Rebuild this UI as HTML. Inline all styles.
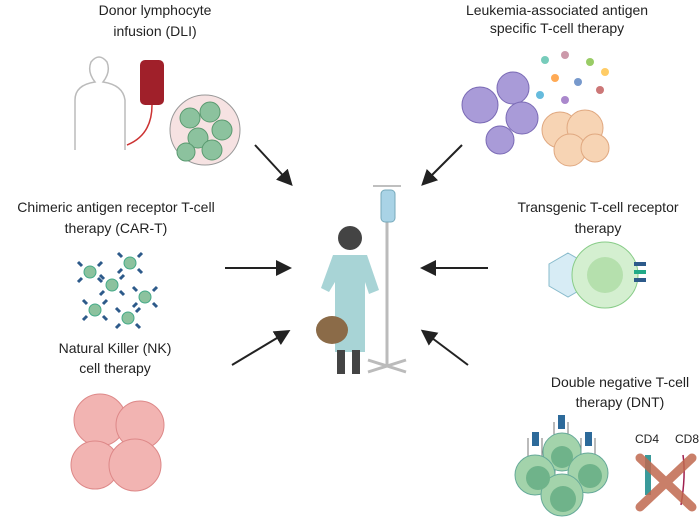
<!DOCTYPE html>
<html><head><style>body{margin:0;background:#fff}svg{display:block}text{font-family:"Liberation Sans",sans-serif;font-size:14px;fill:#222;text-anchor:middle}</style></head><body>
<svg width="700" height="520" viewBox="0 0 700 520">
<defs><marker id="a" markerWidth="8" markerHeight="8" refX="6" refY="4" orient="auto"><path d="M0,0L8,4L0,8z" fill="#222"/></marker></defs>
<text x="155" y="15">Donor lymphocyte</text><text x="155" y="36">infusion (DLI)</text>
<text x="557" y="15">Leukemia-associated antigen</text><text x="557" y="33">specific T-cell therapy</text>
<text x="116" y="212">Chimeric antigen receptor T-cell</text><text x="116" y="233">therapy (CAR-T)</text>
<text x="598" y="212">Transgenic T-cell receptor</text><text x="598" y="233">therapy</text>
<text x="115" y="353">Natural Killer (NK)</text><text x="115" y="373">cell therapy</text>
<text x="620" y="387">Double negative T-cell</text><text x="620" y="407">therapy (DNT)</text>
<g stroke="#222" stroke-width="2" marker-end="url(#a)">
<line x1="255" y1="145" x2="290" y2="183"/><line x1="462" y1="145" x2="424" y2="183"/>
<line x1="225" y1="268" x2="288" y2="268"/><line x1="488" y1="268" x2="424" y2="268"/>
<line x1="232" y1="365" x2="287" y2="332"/><line x1="468" y1="365" x2="424" y2="332"/></g>
<!-- patient -->
<line x1="387" y1="190" x2="387" y2="365" stroke="#bbb" stroke-width="3"/>
<path d="M373,186h28" stroke="#aaa" stroke-width="1.5"/>
<rect x="381" y="190" width="14" height="32" rx="4" fill="#a9d3e6" stroke="#7ab" />
<path d="M368,372L406,360M368,360L406,372" stroke="#bbb" stroke-width="3"/>
<circle cx="350" cy="238" r="12" fill="#444"/>
<path d="M333,255h34l12,35l-10,4l-4,-12v70h-30v-70l-6,10l-8,-4z" fill="#a8d4d6"/>
<rect x="337" y="350" width="8" height="24" fill="#444"/><rect x="352" y="350" width="8" height="24" fill="#444"/>
<ellipse cx="332" cy="330" rx="16" ry="14" fill="#8b6b48"/>
<!-- DLI -->
<path d="M75,150v-50q0,-15 20,-18q-8,-10 -4,-20q8,-10 16,0q4,10 -4,20q20,3 22,18v50" fill="none" stroke="#bbb" stroke-width="1.5"/>
<rect x="140" y="60" width="24" height="45" rx="5" fill="#a0202a"/>
<path d="M152,105q0,30 -25,40" stroke="#c33" fill="none" stroke-width="1.5"/>
<circle cx="205" cy="130" r="35" fill="#f6e2e2" stroke="#999"/>
<g fill="#8cc29e" stroke="#5a9a70"><circle cx="190" cy="118" r="10"/><circle cx="210" cy="112" r="10"/><circle cx="222" cy="130" r="10"/><circle cx="198" cy="138" r="10"/><circle cx="212" cy="150" r="10"/><circle cx="186" cy="152" r="9"/></g>
<!-- leukemia -->
<g fill="#a99bd8" stroke="#7a6ab5"><circle cx="480" cy="105" r="18"/><circle cx="513" cy="88" r="16"/><circle cx="522" cy="118" r="16"/><circle cx="500" cy="140" r="14"/></g>
<g fill="#f7d4b4" stroke="#e0a880"><circle cx="560" cy="130" r="18"/><circle cx="585" cy="128" r="18"/><circle cx="570" cy="150" r="16"/><circle cx="595" cy="148" r="14"/></g>
<g><circle cx="545" cy="60" r="4" fill="#7cb"/><circle cx="565" cy="55" r="4" fill="#c9a"/><circle cx="590" cy="62" r="4" fill="#9c6"/><circle cx="555" cy="78" r="4" fill="#fa5"/><circle cx="578" cy="82" r="4" fill="#79c"/><circle cx="600" cy="90" r="4" fill="#c77"/><circle cx="540" cy="95" r="4" fill="#6bd"/><circle cx="565" cy="100" r="4" fill="#a8c"/><circle cx="605" cy="72" r="4" fill="#fc6"/></g>
<!-- CAR-T -->
<g stroke="#2d5a8a" stroke-width="3">
<path d="M82,266l-4,-4M98,266l4,-4M82,278l-4,4M98,278l4,4"/><path d="M122,257l-4,-4M138,257l4,-4M122,269l-4,4M138,269l4,4"/>
<path d="M104,279l-4,-4M120,279l4,-4M104,291l-4,4M120,291l4,4"/><path d="M137,291l-4,-4M153,291l4,-4M137,303l-4,4M153,303l4,4"/>
<path d="M87,304l-4,-4M103,304l4,-4M87,316l-4,4M103,316l4,4"/><path d="M120,312l-4,-4M136,312l4,-4M120,324l-4,4M136,324l4,4"/></g>
<g fill="#8cc29e" stroke="#4a8"><circle cx="90" cy="272" r="6"/><circle cx="130" cy="263" r="6"/><circle cx="112" cy="285" r="6"/><circle cx="145" cy="297" r="6"/><circle cx="95" cy="310" r="6"/><circle cx="128" cy="318" r="6"/></g>
<!-- transgenic -->
<polygon points="568,253 587,264 587,286 568,297 549,286 549,264" fill="#d7ecf5" stroke="#8bc"/>
<line x1="588" y1="275" x2="608" y2="275" stroke="#888"/>
<circle cx="605" cy="275" r="33" fill="#d4efd0" stroke="#8c8"/><circle cx="605" cy="275" r="18" fill="#b5e0ad"/>
<rect x="634" y="262" width="12" height="4" fill="#2d5a8a"/><rect x="634" y="270" width="12" height="4" fill="#2a8"/><rect x="634" y="278" width="12" height="4" fill="#2d5a8a"/>
<!-- NK -->
<g fill="#f2b4b2" stroke="#d88"><circle cx="100" cy="420" r="26"/><circle cx="140" cy="425" r="24"/><circle cx="95" cy="465" r="24"/><circle cx="135" cy="465" r="26"/></g>
<!-- DNT -->
<g stroke="#777" stroke-width="1"><path d="M554,440v-18M568,440v-18M528,456v-18M542,456v-18M581,456v-18M595,456v-18M555,478v-18M569,478v-18"/></g>
<g fill="#2d6a9a"><rect x="558" y="415" width="7" height="14"/><rect x="532" y="432" width="7" height="14"/><rect x="585" y="432" width="7" height="14"/><rect x="559" y="453" width="7" height="14"/></g>
<g fill="#a3d3ab" stroke="#6a9"><circle cx="562" cy="452" r="19"/><circle cx="535" cy="475" r="20"/><circle cx="588" cy="473" r="20"/><circle cx="562" cy="495" r="21"/></g>
<g fill="#6fb38a"><circle cx="562" cy="457" r="11"/><circle cx="538" cy="478" r="12"/><circle cx="590" cy="476" r="12"/><circle cx="563" cy="499" r="13"/></g>
<text x="647" y="443" style="font-size:12px">CD4</text><text x="687" y="443" style="font-size:12px">CD8</text>
<rect x="645" y="455" width="6" height="40" fill="#3a9a9a"/>
<path d="M683,455q3,20 -2,50" stroke="#a02050" stroke-width="1.5" fill="none"/>
<path d="M640,458L692,507M692,458L640,507" stroke="#c0694f" stroke-width="9" stroke-linecap="round" opacity="0.85"/>
</svg></body></html>
